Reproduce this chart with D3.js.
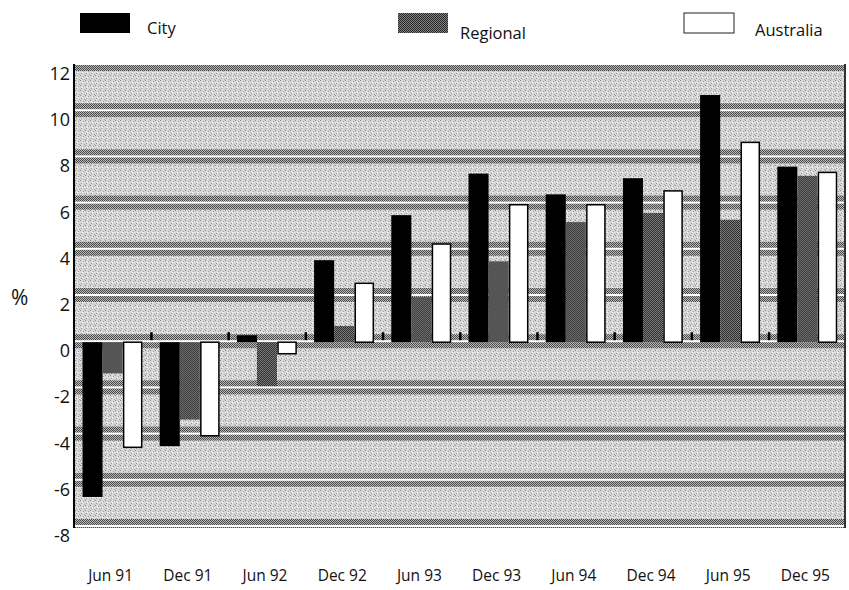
<!DOCTYPE html>
<html>
<head>
<meta charset="utf-8">
<script src="https://cdn.jsdelivr.net/npm/d3@7"></script>
<style>
  body { margin: 0; background: #fff; }
  text { font-family: "Open Sans", "Noto Sans", sans-serif; fill: #111; }
</style>
</head>
<body>
<div id="chart"></div>
<script>
// Data
const categories = ["Jun 91", "Dec 91", "Jun 92", "Dec 92", "Jun 93", "Dec 93", "Jun 94", "Dec 94", "Jun 95", "Dec 95"];
const city = [-6.7, -4.5, 0.3, 3.55, 5.5, 7.3, 6.4, 7.1, 10.7, 7.6];
const regional = [-1.35, -3.35, -1.9, 0.7, 1.95, 3.5, 5.2, 5.6, 5.3, 7.2];
const australia = [-4.55, -4.05, -0.5, 2.55, 4.25, 5.95, 5.95, 6.55, 8.65, 7.35];
const yTicks = [12, 10, 8, 6, 4, 2, 0, -2, -4, -6, -8];
const seriesNames = ["City", "Regional", "Australia"];

const width = 849, height = 590;
const plotLeft = 74, plotRight = 846, plotTop = 65, plotBottom = 527;

const svg = d3.select("#chart").append("svg")
  .attr("width", width)
  .attr("height", height);

// Patterns for the scanned, dithered look
const defs = svg.append("defs");
const dark = defs.append("pattern").attr("id", "dark")
  .attr("width", 2).attr("height", 2).attr("patternUnits", "userSpaceOnUse");
dark.append("rect").attr("width", 2).attr("height", 2).attr("fill", "#b8b8b8");
dark.append("rect").attr("width", 1).attr("height", 1).attr("fill", "#4a4a4a");
dark.append("rect").attr("x", 1).attr("y", 1).attr("width", 1).attr("height", 1).attr("fill", "#4a4a4a");

const light = defs.append("pattern").attr("id", "light")
  .attr("width", 5).attr("height", 5).attr("patternUnits", "userSpaceOnUse");
light.append("rect").attr("width", 5).attr("height", 5).attr("fill", "#d8d8d8");
light.append("rect").attr("x", 0).attr("y", 0).attr("width", 1).attr("height", 1).attr("fill", "#888");
light.append("rect").attr("x", 3).attr("y", 1).attr("width", 1).attr("height", 1).attr("fill", "#9c9c9c");
light.append("rect").attr("x", 1).attr("y", 3).attr("width", 1).attr("height", 1).attr("fill", "#969696");
light.append("rect").attr("x", 4).attr("y", 4).attr("width", 1).attr("height", 1).attr("fill", "#aaa");
light.append("rect").attr("x", 2).attr("y", 2).attr("width", 1).attr("height", 1).attr("fill", "#fff");

const reg = defs.append("pattern").attr("id", "reg")
  .attr("width", 2).attr("height", 2).attr("patternUnits", "userSpaceOnUse");
reg.append("rect").attr("width", 2).attr("height", 2).attr("fill", "#858585");
reg.append("rect").attr("width", 1).attr("height", 1).attr("fill", "#252525");
reg.append("rect").attr("x", 1).attr("y", 1).attr("width", 1).attr("height", 1).attr("fill", "#252525");

// Scales
const x0 = d3.scaleBand()
  .domain(categories)
  .range([plotLeft, plotRight])
  .paddingInner(0.22)
  .paddingOuter(0.11);

const x1 = d3.scaleBand()
  .domain(seriesNames)
  .range([0, x0.bandwidth()]);

const y = d3.scaleLinear()
  .domain([-8, 12])
  .range([plotBottom, plotTop]);

// Plot background
const plot = svg.append("g");
plot.append("rect")
  .attr("x", plotLeft).attr("y", plotTop - 1)
  .attr("width", plotRight - plotLeft).attr("height", plotBottom - plotTop + 2)
  .attr("fill", "url(#light)");

plot.append("clipPath").attr("id", "clip")
  .append("rect")
  .attr("x", plotLeft).attr("y", plotTop - 1)
  .attr("width", plotRight - plotLeft).attr("height", plotBottom - plotTop + 2);

const grid = plot.append("g").attr("clip-path", "url(#clip)");
grid.selectAll("rect.band")
  .data(yTicks)
  .join("rect")
  .attr("class", "band")
  .attr("x", plotLeft).attr("width", plotRight - plotLeft)
  .attr("y", d => y(d) - 8).attr("height", 14)
  .attr("fill", "url(#dark)");
grid.selectAll("rect.line")
  .data(yTicks)
  .join("rect")
  .attr("class", "line")
  .attr("x", plotLeft).attr("width", plotRight - plotLeft)
  .attr("y", d => y(d) - 2).attr("height", 2)
  .attr("fill", "#fff");

// Axis frame
svg.append("line")
  .attr("x1", plotLeft).attr("x2", plotLeft)
  .attr("y1", plotTop - 1).attr("y2", plotBottom + 1)
  .attr("stroke", "#000").attr("stroke-width", 2);
svg.append("line")
  .attr("x1", plotRight - 1).attr("x2", plotRight - 1)
  .attr("y1", plotTop - 1).attr("y2", plotBottom + 1)
  .attr("stroke", "#333").attr("stroke-width", 2);

// Bars
const rows = categories.map((c, i) => ({
  cat: c,
  values: [
    { key: "City", value: city[i] },
    { key: "Regional", value: regional[i] },
    { key: "Australia", value: australia[i] }
  ]
}));

const fills = { City: "#000", Regional: "url(#reg)", Australia: "#fff" };

const groups = svg.append("g").selectAll("g")
  .data(rows)
  .join("g")
  .attr("transform", d => `translate(${x0(d.cat)},0)`);

groups.selectAll("rect")
  .data(d => d.values)
  .join("rect")
  .attr("x", d => x1(d.key) + (d.key === "Australia" ? 1 : 0))
  .attr("width", d => x1.bandwidth() - (d.key === "Australia" ? 2 : 0))
  .attr("y", d => y(Math.max(0, d.value)))
  .attr("height", d => Math.abs(y(d.value) - y(0)))
  .attr("fill", d => fills[d.key])
  .attr("stroke", d => d.key === "Australia" ? "#000" : "none")
  .attr("stroke-width", 1.5);

// Small tick marks between groups on the zero line
const step = x0.step();
svg.append("g").selectAll("rect")
  .data(categories.slice(0, -1))
  .join("rect")
  .attr("x", d => x0(d) + x0.bandwidth() + (step - x0.bandwidth()) / 2 - 1)
  .attr("y", y(0) - 10)
  .attr("width", 2.5)
  .attr("height", 8)
  .attr("fill", "#000");

// Y axis labels (sit a little below their gridline, as in the original)
const yAxis = d3.axisLeft(y)
  .tickValues(yTicks)
  .tickFormat(d => String(d))
  .tickSize(0)
  .tickPadding(3);
const yg = svg.append("g")
  .attr("transform", `translate(${plotLeft},0)`)
  .call(yAxis);
yg.select(".domain").remove();
yg.selectAll("text")
  .attr("dy", "0.8em")
  .attr("dx", "-1")
  .style("font-size", "18px")
  .style("font-family", "'Open Sans', sans-serif")
  .attr("fill", "#111");

svg.append("text")
  .attr("x", 11).attr("y", 305)
  .style("font-size", "21px")
  .text("%");

// X axis labels
const xAxis = d3.axisBottom(x0).tickSize(0).tickPadding(0);
const xg = svg.append("g")
  .attr("transform", `translate(-2,570)`)
  .call(xAxis);
xg.select(".domain").remove();
xg.selectAll("text")
  .style("font-size", "15.5px")
  .style("font-family", "'Open Sans', sans-serif")
  .attr("fill", "#111");

// Legend
const legend = [
  { name: "City", x: 80, tx: 147, ty: 34 },
  { name: "Regional", x: 398, tx: 460, ty: 39 },
  { name: "Australia", x: 684, tx: 755, ty: 36 }
];
const lg = svg.append("g").selectAll("g")
  .data(legend)
  .join("g");
lg.append("rect")
  .attr("x", d => d.x).attr("y", 13)
  .attr("width", 50).attr("height", 20)
  .attr("fill", d => fills[d.name])
  .attr("stroke", d => d.name === "Australia" ? "#222" : "none")
  .attr("stroke-width", 1);
lg.append("text")
  .attr("x", d => d.tx).attr("y", d => d.ty)
  .style("font-size", "16.5px")
  .text(d => d.name);
</script>
</body>
</html>
